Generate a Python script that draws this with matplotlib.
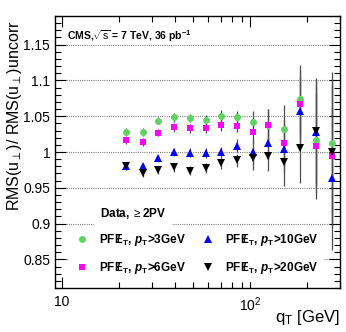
import matplotlib
matplotlib.use("Agg")
import matplotlib.pyplot as plt
from matplotlib.ticker import FixedLocator, FixedFormatter, NullFormatter
from matplotlib.lines import Line2D

plt.rcParams['font.family'] = ['Liberation Sans', 'DejaVu Sans']
plt.rcParams['mathtext.fontset'] = 'custom'
plt.rcParams['mathtext.rm'] = 'Liberation Sans'
plt.rcParams['mathtext.it'] = 'Liberation Sans:italic'
plt.rcParams['mathtext.bf'] = 'Liberation Sans:bold'
plt.rcParams['mathtext.bfit'] = 'Liberation Sans:italic:bold'

# q_T bin centres (GeV)
qt = [22, 27, 32.5, 39.5, 48, 58, 70, 85, 103, 125, 152, 185, 223, 272]

# RMS(u_perp) / RMS(u_perp)^uncorr for the four pT thresholds
ratio_pt3 = [1.028, 1.028, 1.0435, 1.0486, 1.0477, 1.0449, 1.0505, 1.0486,
             1.0414, 1.038, 1.032, 1.074, 1.0167, 1.012]
ratio_pt6 = [1.0164, 1.014, 1.027, 1.0346, 1.0332, 1.0332, 1.0379, 1.0369,
             1.0274, 1.0377, 1.012, 1.0665, 1.0088, 0.995]
ratio_pt10 = [0.9804, 0.980, 0.9911, 1.0, 0.999, 0.999, 0.9995, 1.0089,
              1.0005, 1.012, 1.004, 1.057, 1.028, 0.963]
ratio_pt20 = [0.980, 0.9706, 0.9748, 0.9785, 0.9738, 0.9771, 0.9841, 0.9883,
              0.991, 0.995, 0.9856, 1.005, 1.0298, 0.9995]

# statistical uncertainty per bin
stat_err = [0.005, 0.005, 0.005, 0.006, 0.006, 0.007, 0.008, 0.009,
            0.016, 0.022, 0.033, 0.048, 0.074, 0.10]

met = r'PF$\mathbf{E}\hspace{-0.5}\mathbf{/}\hspace{0.22}_{\mathbf{T}}$'
series = [
    (ratio_pt3, 'o', '#5fd35f', 5.0, met + r', $\mathbfit{p}_{\mathbf{T}}$>3GeV'),
    (ratio_pt6, 's', '#ff00ff', 4.6, met + r', $\mathbfit{p}_{\mathbf{T}}$>6GeV'),
    (ratio_pt10, '^', '#0000ff', 5.2, met + r', $\mathbfit{p}_{\mathbf{T}}$>10GeV'),
    (ratio_pt20, 'v', 'black', 5.2, met + r', $\mathbfit{p}_{\mathbf{T}}$>20GeV'),
]

fig = plt.figure(figsize=(3.46, 3.32), dpi=100)
ax = fig.add_axes([55 / 346, 1 - 288 / 332, 285 / 346, 272 / 332])

for yv in [0.85, 0.9, 0.95, 1.0, 1.05, 1.1, 1.15]:
    ax.axhline(yv, color='0.5', lw=0.8, ls=(0, (1, 1)), zorder=0)

handles = []
for vals, mk, col, ms, lab in series:
    ax.errorbar(qt, vals, yerr=stat_err, fmt=mk, color=col, ms=ms,
                ecolor='0.3', elinewidth=0.9, capsize=0, mew=0, zorder=3)
    handles.append(Line2D([], [], ls='none', marker=mk, color=col,
                          ms=ms, mew=0, label=lab))

ax.set_xscale('log')
ax.set_xlim(9.2, 300)
ax.set_ylim(0.81, 1.19)

ax.xaxis.set_major_locator(FixedLocator([10, 100]))
ax.xaxis.set_major_formatter(FixedFormatter(['10', r'10$^{2}$']))
ax.xaxis.set_minor_locator(FixedLocator([20, 30, 40, 50, 60, 70, 80, 90, 200, 300]))
ax.xaxis.set_minor_formatter(NullFormatter())
ax.set_yticks([0.85, 0.9, 0.95, 1.0, 1.05, 1.1, 1.15])
ax.set_yticklabels(['0.85', '0.9', '0.95', '1', '1.05', '1.1', '1.15'])
ax.yaxis.set_minor_locator(FixedLocator([0.81 + 0.01 * i for i in range(39)]))

ax.tick_params(which='both', direction='in', top=True, right=True,
               labelsize=10, width=0.8)
ax.tick_params(which='major', length=8)
ax.tick_params(which='minor', length=4)
ax.tick_params(axis='x', pad=5)
for s in ax.spines.values():
    s.set_linewidth(1.0)

ax.set_xlabel(r'q$_{\mathrm{T}}$ [GeV]', fontsize=12, ha='right')
ax.xaxis.set_label_coords(1.0, -0.075)
ax.set_ylabel(r'RMS(u$_{\perp}$)/ RMS(u$_{\perp}$)uncorr', fontsize=11.5, ha='right')
ax.yaxis.set_label_coords(-0.108, 0.985)

ax.text(0.042, 0.925, r'CMS,$\sqrt{\mathrm{s}}$ = 7 TeV, 36 pb$^{\mathbf{-1}}$',
        transform=ax.transAxes, fontsize=7.5, fontweight='bold', va='center')
ax.text(0.158, 0.275, r'Data, $\geq$2PV', transform=ax.transAxes,
        fontsize=8.5, fontweight='bold', va='center',
        bbox=dict(facecolor='white', edgecolor='none', pad=4))

leg = ax.legend(handles=handles, ncol=2, loc='lower left',
                bbox_to_anchor=(0.03, 0.0), frameon=True, fancybox=False,
                facecolor='white', edgecolor='none', framealpha=1,
                prop={'size': 8.5, 'weight': 'bold'}, handlelength=1.2,
                handletextpad=0.8, columnspacing=1.3, labelspacing=1.0,
                borderpad=0.5)

fig.savefig('out.png', dpi=100)
